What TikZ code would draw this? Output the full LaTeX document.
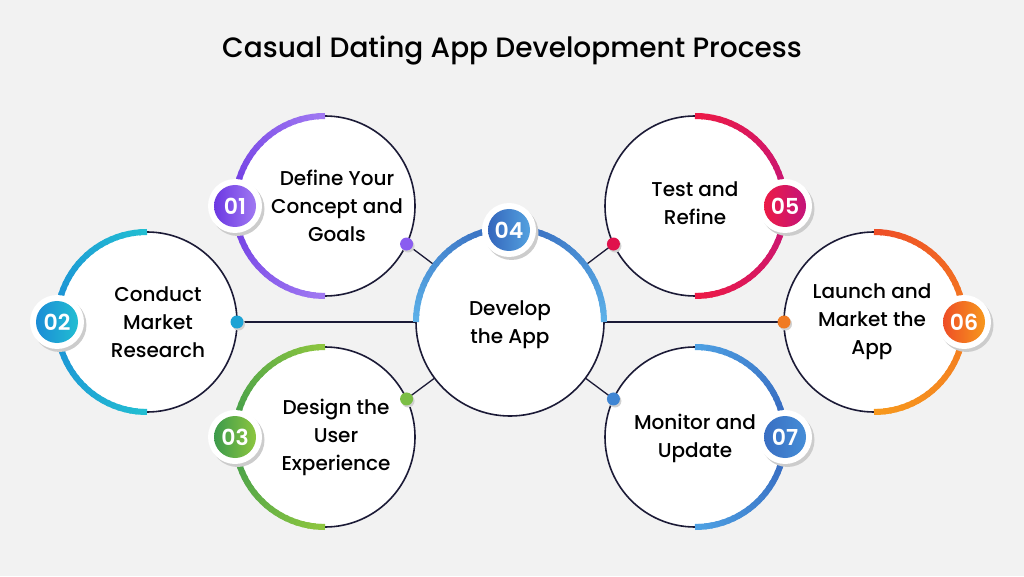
\documentclass[tikz,border=0pt]{standalone}
\usepackage{fontspec}
\setmainfont{Poppins}[UprightFont={* Medium}, BoldFont={* SemiBold}]
\usetikzlibrary{calc}
\definecolor{bgc}{HTML}{F2F2F2}
\definecolor{navy}{HTML}{1B1A36}
% arc colours (end / middle) and badge colours (left / right)
\definecolor{pEnd}{HTML}{A079F2}\definecolor{pMid}{HTML}{6C38E2}
\definecolor{cEnd}{HTML}{22BED2}\definecolor{cMid}{HTML}{1B8CD6}
\definecolor{gEnd}{HTML}{8DC63F}\definecolor{gMid}{HTML}{3C9A4C}
\definecolor{bEnd}{HTML}{5CB0E8}\definecolor{bMid}{HTML}{3466BC}
\definecolor{rEnd}{HTML}{EC1A46}\definecolor{rMid}{HTML}{C4157A}
\definecolor{oTop}{HTML}{EE4E26}\definecolor{oMid}{HTML}{F37A21}\definecolor{oBot}{HTML}{F7981D}
\definecolor{uEnd}{HTML}{4DA0E3}\definecolor{uMid}{HTML}{3462BA}
\pgfdeclarelayer{bglayer}\pgfdeclarelayer{linelayer}
\pgfsetlayers{bglayer,linelayer,main}
\tikzset{
  stage/.style={circle, draw=navy, line width=1.6pt, fill=white, minimum size=180pt, inner sep=0pt, outer sep=0pt},
  hub/.style={stage, minimum size=188pt},
  lbl/.style={align=center, text=black, font=\fontsize{20}{28}\selectfont},
  num/.style={text=white, font=\bfseries\fontsize{22}{22}\selectfont},
  conn/.style={draw=navy, line width=1.3pt},
  dotmark/.style={circle, minimum size=13pt, inner sep=0pt, outer sep=0pt},
}
% gradient arc: center, radius, start angle, end angle, start colour, end colour
\newcommand\garc[6]{%
  \foreach \i in {0,...,23}{%
    \pgfmathtruncatemacro\pct{100-100*\i/23}%
    \pgfmathsetmacro\aa{#3+(#4-#3)*\i/24}%
    \pgfmathsetmacro\bb{#3+(#4-#3)*min(\i+1.4,24)/24}%
    \draw[line width=6pt, draw=#5!\pct!#6] ($(#1)+(\aa:#2pt)$) arc[start angle=\aa, end angle=\bb, radius=#2pt];
  }}
% badge: name, position, left colour, right colour, text
\newcommand\badge[5]{%
  \fill[black!20] ($(#2)+(2.5,-3)$) circle (27pt);
  \fill[white] (#2) circle (27pt);
  \shade[left color=#3, right color=#4] (#2) circle (21pt);
  \node[num] (#1) at (#2) {#5};
}
\begin{document}
\begin{tikzpicture}[x=1pt, y=1pt]
\begin{pgfonlayer}{bglayer}
  \fill[bgc] (0,0) rectangle (1024,576);
\end{pgfonlayer}
\path[use as bounding box] (0,0) rectangle (1024,576);

\node[font=\fontsize{28}{32}\selectfont] (title) at (512,525) {Casual Dating App Development Process};

% circles
\node[stage] (c1) at (325,370) {};
\node[stage] (c2) at (147,254) {};
\node[stage] (c3) at (325,139) {};
\node[hub]   (c4) at (510,254) {};
\node[stage] (c5) at (695,370) {};
\node[stage] (c6) at (874,254) {};
\node[stage] (c7) at (695,139) {};

% coloured arcs
\garc{c1}{90}{90}{180}{pEnd}{pMid}\garc{c1}{90}{180}{270}{pMid}{pEnd}
\garc{c2}{90}{90}{180}{cEnd}{cMid}\garc{c2}{90}{180}{270}{cMid}{cEnd}
\garc{c3}{90}{90}{180}{gEnd}{gMid}\garc{c3}{90}{180}{270}{gMid}{gEnd}
\garc{c4}{94}{180}{90}{bEnd}{bMid}\garc{c4}{94}{90}{0}{bMid}{bEnd}
\garc{c5}{90}{90}{0}{rEnd}{rMid}\garc{c5}{90}{0}{-90}{rMid}{rEnd}
\garc{c6}{90}{90}{0}{oTop}{oMid}\garc{c6}{90}{0}{-90}{oMid}{oBot}
\garc{c7}{90}{90}{0}{uEnd}{uMid}\garc{c7}{90}{0}{-90}{uMid}{uEnd}

% dots
\foreach \c/\a/\n/\col in {c1/-25/d1/8A5CF0, c2/0/d2/1DA3D5, c3/25/d3/7BBE45, c5/205/d5/E0124C, c6/180/d6/F07A22, c7/155/d7/3F85D3}{
  \fill[black!18] ($(\c.\a)+(1.5,-2)$) circle (6.5pt);
  \definecolor{dc}{HTML}{\col}
  \node[dotmark, fill=dc] (\n) at (\c.\a) {};
}

% connectors
\begin{pgfonlayer}{linelayer}
  \draw[conn] (d1.center) -- (c4.center);
  \draw[conn] (d3.center) -- (c4.center);
  \draw[conn] (d5.center) -- (c4.center);
  \draw[conn] (d7.center) -- (c4.center);
  \draw[conn] (d2.center) -- (c4.center);
  \draw[conn] (d6.center) -- (c4.center);
\end{pgfonlayer}

% labels
\node[lbl] (l1) at (337,370) {Define Your\\Concept and\\Goals};
\node[lbl] (l2) at (158,254) {Conduct\\Market\\Research};
\node[lbl] (l3) at (336,139) {Design the\\User\\Experience};
\node[lbl] (l4) at (510,251) {Develop\\the App};
\node[lbl] (l5) at (695,373) {Test and\\Refine};
\node[lbl] (l6) at (872,254) {Launch and\\Market the\\App};
\node[lbl] (l7) at (695,138) {Monitor and\\Update};

% badges
\badge{b1}{235,370}{pMid}{pEnd}{01}
\badge{b2}{57,254}{cMid}{cEnd}{02}
\badge{b3}{235,139}{gMid}{gEnd}{03}
\badge{b4}{509,346}{bMid}{bEnd!80!bMid}{04}
\badge{b5}{785,370}{rEnd}{rMid}{05}
\badge{b6}{964,254}{oTop}{oBot}{06}
\badge{b7}{785,139}{uMid!80!uEnd}{uEnd!70!uMid}{07}
\end{tikzpicture}
\end{document}
